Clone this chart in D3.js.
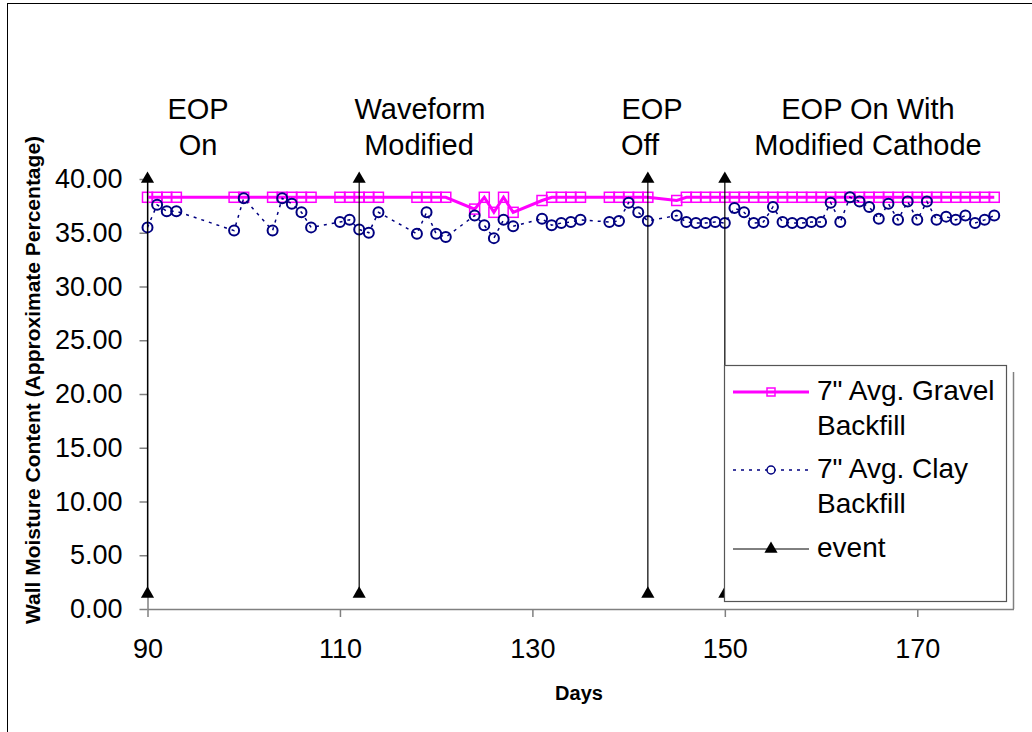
<!DOCTYPE html>
<html>
<head>
<meta charset="utf-8">
<script src="https://cdn.jsdelivr.net/npm/d3@7"></script>
<style>
  body { margin: 0; background: #fff; }
  text { font-family: "Liberation Sans", Arial, sans-serif; fill: #000; }
</style>
</head>
<body>
<svg id="chart" width="1032" height="732"></svg>
<script>
// days on which both series were measured
const days = [90, 91, 92, 93, 99, 100, 103, 104, 105, 106, 107, 110, 111, 112, 113, 114,
  118, 119, 120, 121, 124, 125, 126, 127, 128, 131, 132, 133, 134, 135, 138, 139, 140, 141, 142,
  145, 146, 147, 148, 149, 150, 151, 152, 153, 154, 155, 156, 157, 158, 159, 160, 161, 162,
  163, 164, 165, 166, 167, 168, 169, 170, 171, 172, 173, 174, 175, 176, 177, 178];

const gravel = [38.3, 38.3, 38.3, 38.3, 38.3, 38.3, 38.3, 38.3, 38.3, 38.3, 38.3, 38.3, 38.3, 38.3, 38.3, 38.3,
  38.3, 38.3, 38.3, 38.3, 37.2, 38.3, 36.9, 38.3, 36.9, 38.0, 38.3, 38.3, 38.3, 38.3, 38.3, 38.3, 38.3, 38.3, 38.3,
  38.0, 38.3, 38.3, 38.3, 38.3, 38.3, 38.3, 38.3, 38.3, 38.3, 38.3, 38.3, 38.3, 38.3, 38.3, 38.3, 38.3, 38.3,
  38.3, 38.3, 38.3, 38.3, 38.3, 38.3, 38.3, 38.3, 38.3, 38.3, 38.3, 38.3, 38.3, 38.3, 38.3, 38.3];

const clay = [35.5, 37.6, 37.0, 37.0, 35.2, 38.2, 35.2, 38.2, 37.7, 36.9, 35.5, 36.0, 36.2, 35.3, 35.0, 36.9,
  34.9, 36.9, 34.9, 34.6, 36.6, 35.7, 34.5, 36.2, 35.6, 36.3, 35.7, 35.9, 36.0, 36.2, 36.0, 36.1, 37.8, 36.9, 36.1,
  36.6, 36.0, 35.9, 35.9, 36.0, 35.9, 37.3, 36.9, 35.9, 36.0, 37.4, 36.0, 35.9, 35.9, 36.0, 36.0, 37.8, 36.0,
  38.3, 37.9, 37.4, 36.3, 37.7, 36.2, 37.9, 36.2, 37.9, 36.2, 36.5, 36.2, 36.6, 35.9, 36.2, 36.6];

// event markers: vertical lines from low to high value
const eventDays = [90, 112, 142, 150];
const eventLow = 1.4;
const eventHigh = 40;

const eventLabels = [["EOP", "On"], ["Waveform", "Modified"], ["EOP", "Off"], ["EOP On With", "Modified Cathode"]];
// centre of each label line (px), the "Off" line sits a little left
const eventLabelX = [[198, 198], [420, 419], [652, 640], [868, 868]];

const xTicks = [90, 110, 130, 150, 170];
const yTicks = [0, 5, 10, 15, 20, 25, 30, 35, 40];

const legendNames = [["7\" Avg. Gravel", "Backfill"], ["7\" Avg. Clay", "Backfill"], ["event"]];

const svg = d3.select("#chart");

// chart frame (left and top visible)
svg.append("rect")
  .attr("x", 7.5).attr("y", 3.5)
  .attr("width", 1040).attr("height", 740)
  .attr("fill", "none").attr("stroke", "#000");

const x = d3.scaleLinear().domain([90, 180]).range([147.5, 1013.5]);
const y = d3.scaleLinear().domain([0, 40]).range([609, 179]);

// axes
const xAxis = svg.append("g")
  .attr("transform", "translate(0,609)")
  .call(d3.axisBottom(x).tickValues(xTicks).tickSize(8).tickSizeOuter(0).tickPadding(22));
const yAxis = svg.append("g")
  .attr("transform", "translate(147.5,0)")
  .call(d3.axisLeft(y).tickValues(yTicks).tickSize(8).tickSizeOuter(0).tickPadding(17)
    .tickFormat(d3.format(".2f")));

[xAxis, yAxis].forEach(a => {
  a.select(".domain").attr("stroke", "#808080").attr("stroke-width", 1.5);
  a.selectAll(".tick line").attr("stroke", "#808080").attr("stroke-width", 1.5);
  a.selectAll(".tick text").attr("font-size", 27).attr("font-family", "Liberation Sans, Arial, sans-serif").attr("fill", "#000");
});

// legend shadow edge
svg.append("line")
  .attr("x1", 1013.5).attr("x2", 1013.5).attr("y1", 372).attr("y2", 609)
  .attr("stroke", "#808080").attr("stroke-width", 1.5);

// gravel series
const seriesLine = d3.line().x((d, i) => x(days[i])).y(d => y(d));
svg.append("path")
  .attr("d", seriesLine(gravel))
  .attr("fill", "none").attr("stroke", "#ff00ff").attr("stroke-width", 3);
svg.append("g").selectAll("rect")
  .data(gravel)
  .enter()
  .append("rect")
  .attr("x", (d, i) => x(days[i]) - 5)
  .attr("y", d => y(d) - 5)
  .attr("width", 10).attr("height", 10)
  .attr("fill", "none").attr("stroke", "#ff00ff").attr("stroke-width", 1.5);

// clay series
svg.append("path")
  .attr("d", seriesLine(clay))
  .attr("fill", "none").attr("stroke", "#000080").attr("stroke-width", 1.5)
  .attr("stroke-dasharray", "3,5");
svg.append("g").selectAll("circle")
  .data(clay)
  .enter()
  .append("circle")
  .attr("cx", (d, i) => x(days[i]))
  .attr("cy", d => y(d))
  .attr("r", 5)
  .attr("fill", "none").attr("stroke", "#000080").attr("stroke-width", 2);

// event lines with triangles
const tri = d3.symbol().type(d3.symbolTriangle).size(75);
const ev = svg.append("g").selectAll("g")
  .data(eventDays)
  .enter()
  .append("g");
ev.append("line")
  .attr("x1", d => x(d)).attr("x2", d => x(d))
  .attr("y1", y(eventLow)).attr("y2", y(eventHigh))
  .attr("stroke", "#000").attr("stroke-width", 1.2);
ev.selectAll("path")
  .data(d => [[d, eventLow], [d, eventHigh]])
  .enter()
  .append("path")
  .attr("d", tri)
  .attr("transform", d => `translate(${x(d[0])},${y(d[1])})`)
  .attr("fill", "#000");

// event annotations
eventLabels.forEach((lines, i) => {
  lines.forEach((t, j) => {
    svg.append("text")
      .attr("x", eventLabelX[i][j])
      .attr("y", 119 + j * 36)
      .attr("text-anchor", "middle")
      .attr("font-size", 29)
      .attr("textLength", null)
      .text(t);
  });
});

// axis titles
svg.append("text")
  .attr("transform", "translate(40,380) rotate(-90)")
  .attr("text-anchor", "middle")
  .attr("font-size", 21).attr("font-weight", "bold")
  .text("Wall Moisture Content (Approximate Percentage)");
svg.append("text")
  .attr("x", 579).attr("y", 700)
  .attr("text-anchor", "middle")
  .attr("font-size", 20).attr("font-weight", "bold")
  .text("Days");

// legend
const lg = svg.append("g");
lg.append("rect")
  .attr("x", 724.5).attr("y", 365.5).attr("width", 282).attr("height", 236)
  .attr("fill", "#fff").attr("stroke", "#555").attr("stroke-width", 1.2);

const rowY = [392, 470, 549];
const textY = [[400, 435], [478, 513], [557]];

lg.append("line").attr("x1", 733).attr("x2", 809).attr("y1", rowY[0]).attr("y2", rowY[0])
  .attr("stroke", "#ff00ff").attr("stroke-width", 3);
lg.append("rect").attr("x", 767).attr("y", rowY[0] - 4).attr("width", 8).attr("height", 8)
  .attr("fill", "none").attr("stroke", "#ff00ff").attr("stroke-width", 1.5);

lg.append("line").attr("x1", 733).attr("x2", 809).attr("y1", rowY[1]).attr("y2", rowY[1])
  .attr("stroke", "#000080").attr("stroke-width", 1.5).attr("stroke-dasharray", "3,5");
lg.append("circle").attr("cx", 771).attr("cy", rowY[1]).attr("r", 4)
  .attr("fill", "#fff").attr("stroke", "#000080").attr("stroke-width", 1.5);

lg.append("line").attr("x1", 733).attr("x2", 809).attr("y1", rowY[2]).attr("y2", rowY[2])
  .attr("stroke", "#000").attr("stroke-width", 1);
lg.append("path").attr("d", tri).attr("transform", `translate(771,${rowY[2]})`).attr("fill", "#000");

legendNames.forEach((lines, i) => {
  lines.forEach((t, j) => {
    lg.append("text")
      .attr("x", 817).attr("y", textY[i][j])
      .attr("font-size", 28)
      .text(t);
  });
});
</script>
</body>
</html>
